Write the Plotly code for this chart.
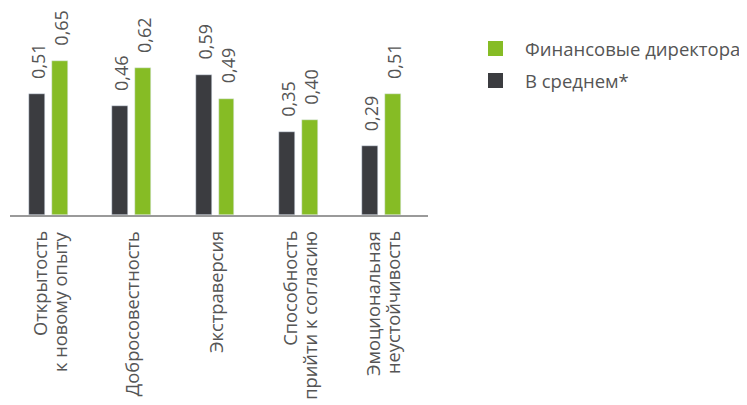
import plotly.graph_objects as go

categories = ["Открытость<br>к новому опыту", "Добросовестность", "Экстраверсия",
              "Способность<br>прийти к согласию", "Эмоциональная<br>неустойчивость"]
avg_values = [0.51, 0.46, 0.59, 0.35, 0.29]
cfo_values = [0.65, 0.62, 0.49, 0.40, 0.51]
avg_name = "В среднем*"
cfo_name = "Финансовые директора"

DARK = "#3b3c40"
GREEN = "#86bc25"
TEXT = "#555555"
FONT = "Open Sans"

def fmt(v):
    return f"{v:.2f}".replace(".", ",")

fig = go.Figure()
fig.add_trace(go.Bar(x=categories, y=avg_values, name=avg_name, marker_color=DARK,
                     width=0.192, offset=-0.234, showlegend=False))
fig.add_trace(go.Bar(x=categories, y=cfo_values, name=cfo_name, marker_color=GREEN,
                     width=0.192, offset=0.042, showlegend=False))

anns = []
# value labels
for vals, shift in ((avg_values, -11.5), (cfo_values, 11.5)):
    for c, v in zip(categories, vals):
        anns.append(dict(x=c, y=v, text=fmt(v), textangle=-90, showarrow=False,
                         xanchor="center", yanchor="bottom", xshift=shift + 1, yshift=13,
                         font=dict(family=FONT, size=18, color=TEXT)))

# category labels (one annotation per line so lines stay end-aligned)
for c in categories:
    lines = c.split("<br>")
    shifts = [0] if len(lines) == 1 else [-9, 11]
    for line, sh in zip(lines, shifts):
        anns.append(dict(x=c, y=0, text=line, textangle=-90, showarrow=False,
                         xanchor="center", yanchor="top", xshift=sh, yshift=-14,
                         font=dict(family=FONT, size=18.3, color=TEXT)))

# legend
PH = 207.0
legend_items = [(cfo_name, GREEN, 48.5), (avg_name, DARK, 80.5)]
shapes = []
for name, col, py in legend_items:
    yc = (215 - py) / PH
    shapes.append(dict(type="rect", xref="paper", yref="paper",
                       x0=(488 - 10) / 418, x1=(503 - 10) / 418,
                       y0=yc - 7.5 / PH, y1=yc + 7.5 / PH,
                       fillcolor=col, line=dict(width=0)))
    anns.append(dict(x=(523 - 10) / 418, y=yc, xref="paper", yref="paper", text=name,
                     showarrow=False, xanchor="left", yanchor="middle",
                     font=dict(family=FONT, size=18.5, color=TEXT)))

fig.update_layout(
    width=739, height=397,
    margin=dict(l=2, r=319, t=0, b=190),
    paper_bgcolor="white", plot_bgcolor="white",
    font=dict(family=FONT, size=18, color=TEXT),
    annotations=anns, shapes=shapes,
    bargap=0, showlegend=False,
)
fig.update_xaxes(type="category", range=[-0.462, 4.558], showline=True,
                 linecolor="#9a9a9a", linewidth=2, ticks="", showticklabels=False,
                 showgrid=False, zeroline=False)
fig.update_yaxes(range=[0, 207 / 237.4], visible=False, showgrid=False, zeroline=False)

fig.write_html("out.html")
